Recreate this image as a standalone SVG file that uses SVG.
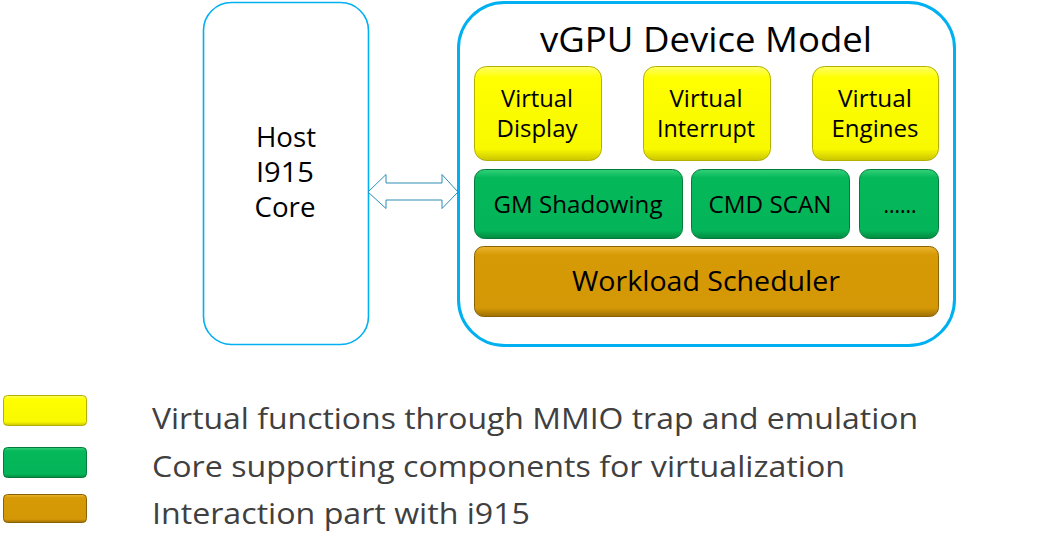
<svg xmlns="http://www.w3.org/2000/svg" width="1046" height="554" viewBox="0 0 1046 554">
<defs>
<linearGradient id="gy" x1="0" y1="0" x2="0" y2="1">
<stop offset="0" stop-color="#ffff66"/><stop offset="0.12" stop-color="#ffff00"/><stop offset="0.88" stop-color="#f8f800"/><stop offset="1" stop-color="#c9c400"/>
</linearGradient>
<linearGradient id="gg" x1="0" y1="0" x2="0" y2="1">
<stop offset="0" stop-color="#33d07a"/><stop offset="0.12" stop-color="#05b85a"/><stop offset="0.88" stop-color="#03b558"/><stop offset="1" stop-color="#028a40"/>
</linearGradient>
<linearGradient id="go" x1="0" y1="0" x2="0" y2="1">
<stop offset="0" stop-color="#ebb530"/><stop offset="0.12" stop-color="#d69a06"/><stop offset="0.88" stop-color="#d49806"/><stop offset="1" stop-color="#9e7004"/>
</linearGradient>
<style>
.frame{fill:#ffffff;stroke:#00b0f0}
.y{fill:url(#gy);stroke:#b5b000;stroke-width:1}
.g{fill:url(#gg);stroke:#037a3a;stroke-width:1}
.o{fill:url(#go);stroke:#8a6203;stroke-width:1}
text{font-family:"Open Sans","Noto Sans",sans-serif;fill:#000;text-anchor:middle}
.leg{fill:#404040;text-anchor:start;font-size:30px}
.yt{font-size:23px}
.gt{font-size:23.5px}
</style>
</defs>

<g id="host">
<rect class="frame" x="203.5" y="2.5" width="165" height="342" rx="28" stroke-width="1.6"/>
<text x="286" y="147" font-size="27" textLength="60" lengthAdjust="spacingAndGlyphs">Host</text>
<text x="285" y="182" font-size="27" textLength="58" lengthAdjust="spacingAndGlyphs">I915</text>
<text x="285" y="217" font-size="27" textLength="61" lengthAdjust="spacingAndGlyphs">Core</text>
</g>

<g id="vgpu">
<rect class="frame" x="458.5" y="2.5" width="496" height="343" rx="46" stroke-width="3"/>
<text x="706" y="52" font-size="35" textLength="332" lengthAdjust="spacingAndGlyphs">vGPU Device Model</text>
</g>

<g id="virtual-display">
<rect class="y" x="474.5" y="66.5" width="127" height="94" rx="12"/>
<text class="yt" x="537" y="107" textLength="72" lengthAdjust="spacingAndGlyphs">Virtual</text>
<text class="yt" x="537" y="137" textLength="81" lengthAdjust="spacingAndGlyphs">Display</text>
</g>
<g id="virtual-interrupt">
<rect class="y" x="643.5" y="66.5" width="127" height="94" rx="12"/>
<text class="yt" x="706" y="107" textLength="73" lengthAdjust="spacingAndGlyphs">Virtual</text>
<text class="yt" x="706" y="137" textLength="98" lengthAdjust="spacingAndGlyphs">Interrupt</text>
</g>
<g id="virtual-engines">
<rect class="y" x="812.5" y="66.5" width="126" height="94" rx="12"/>
<text class="yt" x="875" y="107" textLength="74" lengthAdjust="spacingAndGlyphs">Virtual</text>
<text class="yt" x="875" y="137" textLength="87" lengthAdjust="spacingAndGlyphs">Engines</text>
</g>

<g id="gm-shadowing">
<rect class="g" x="474.5" y="169.5" width="208" height="69" rx="10"/>
<text class="gt" x="578" y="213" textLength="169" lengthAdjust="spacingAndGlyphs">GM Shadowing</text>
</g>
<g id="cmd-scan">
<rect class="g" x="691.5" y="169.5" width="158" height="69" rx="10"/>
<text class="gt" x="770" y="213" textLength="123" lengthAdjust="spacingAndGlyphs">CMD SCAN</text>
</g>
<g id="more">
<rect class="g" x="859.5" y="169.5" width="79" height="69" rx="10"/>
<text class="gt" x="900" y="213" textLength="33" lengthAdjust="spacingAndGlyphs">......</text>
</g>

<g id="workload-scheduler">
<rect class="o" x="474.5" y="246.5" width="464" height="70" rx="9"/>
<text x="706" y="291" font-size="28" textLength="268" lengthAdjust="spacingAndGlyphs">Workload Scheduler</text>
</g>

<g id="connectors">
<path d="M368,192 L386,174.5 L386,183 L442,183 L442,174.5 L458,192 L442,208.5 L442,200 L386,200 L386,208.5 Z" fill="#ffffff" stroke="#2e8db5" stroke-width="1"/>
</g>

<g id="legend">
<rect class="y" x="3.5" y="395.5" width="83" height="30" rx="4"/>
<rect class="g" x="3.5" y="447.5" width="83" height="30" rx="4"/>
<rect class="o" x="3.5" y="494.5" width="83" height="28" rx="4"/>
<text class="leg" x="152" y="429" textLength="766" lengthAdjust="spacingAndGlyphs">Virtual functions through MMIO trap and emulation</text>
<text class="leg" x="152" y="477" textLength="693" lengthAdjust="spacingAndGlyphs">Core supporting components for virtualization</text>
<text class="leg" x="152" y="524" textLength="378" lengthAdjust="spacingAndGlyphs">Interaction part with i915</text>
</g>
</svg>
